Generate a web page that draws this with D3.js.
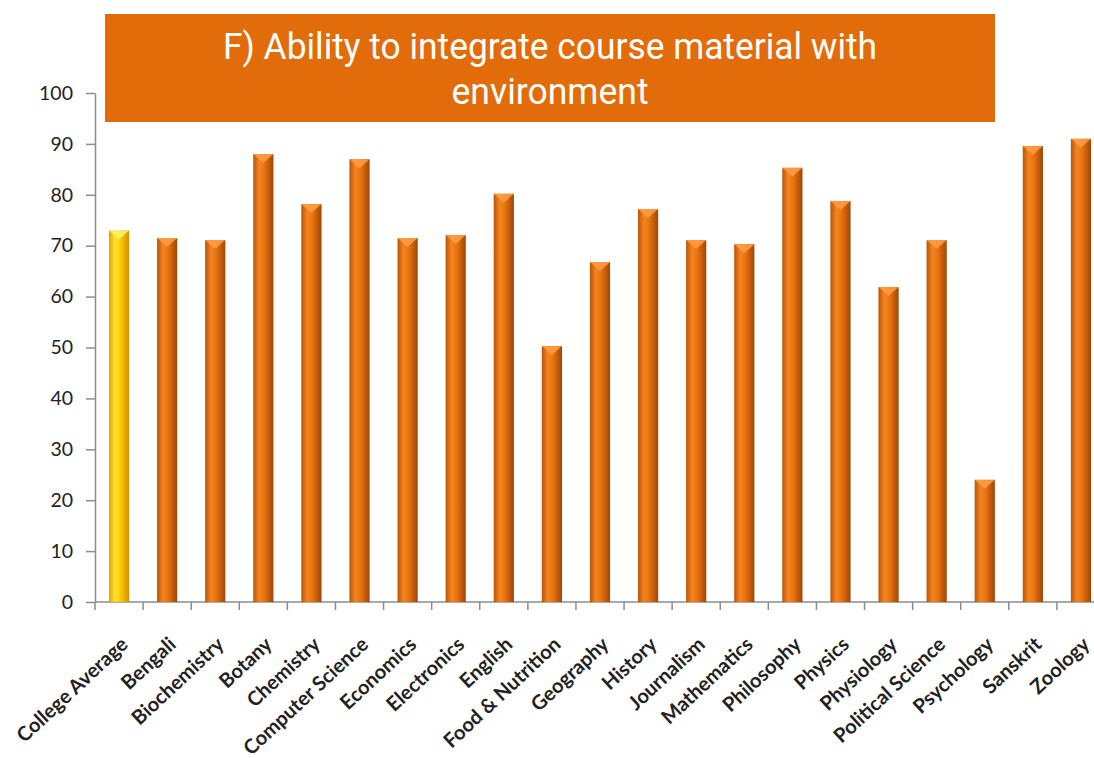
<!DOCTYPE html>
<html>
<head>
<meta charset="utf-8">
<script src="https://cdn.jsdelivr.net/npm/d3@7"></script>
<style>
  body { margin: 0; background: #fff; }
  svg { display: block; }
  .y.axis text { font-family: Lato, "Open Sans", sans-serif; font-size: 19.5px; fill: #222; }
  .x.axis text { font-family: Lato, "Open Sans", sans-serif; font-size: 20px; font-weight: 700; fill: #222; }
  .axis path, .axis line { stroke: #8c8c8c; stroke-width: 1.5px; }
  .title { font-family: "Liberation Sans Narrow", "Arial Narrow", Roboto, sans-serif; font-size: 37px; fill: #fff; }
</style>
</head>
<body>
<div id="myChart"></div>
<script>
var categories = ["College Average", "Bengali", "Biochemistry", "Botany", "Chemistry",
  "Computer Science", "Economics", "Electronics", "English", "Food & Nutrition",
  "Geography", "History", "Journalism", "Mathematics", "Philosophy", "Physics",
  "Physiology", "Political Science", "Psychology", "Sanskrit", "Zoology"];
var values = [73, 71.5, 71.1, 88, 78.2, 87, 71.5, 72.1, 80.2, 50.3,
  66.8, 77.2, 71.1, 70.3, 85.3, 78.8, 61.9, 71.1, 24, 89.6, 91];
var yTicks = [0, 10, 20, 30, 40, 50, 60, 70, 80, 90, 100];
var titleLines = ["F) Ability to integrate course material with", "environment"];
var titleWidths = [654, 197]; // width each title line spans in the picture

var width = 1094, height = 758;

// plot area; the last band runs past the right edge, as in the picture
var x = d3.scaleBand()
    .domain(categories)
    .range([95, 1105])
    .paddingInner(0.58)
    .paddingOuter(0.29);

var y = d3.scaleLinear()
    .domain([0, 100])
    .range([602, 93]);

var svg = d3.select("#myChart").append("svg")
    .attr("width", width)
    .attr("height", height);

var defs = svg.append("defs");

// cylinder-like shading across each bar
function barGradient(id, stops) {
    var g = defs.append("linearGradient")
        .attr("id", id)
        .attr("x1", "0%").attr("x2", "100%")
        .attr("y1", "0%").attr("y2", "0%");
    stops.forEach(function(s) {
        g.append("stop").attr("offset", s[0]).attr("stop-color", s[1]);
    });
}
barGradient("orange-bar", [["0%", "#b9550a"], ["30%", "#f5851f"], ["55%", "#e97211"], ["100%", "#9f4706"]]);
barGradient("yellow-bar", [["0%", "#e2a400"], ["30%", "#ffe03a"], ["55%", "#ffcc00"], ["100%", "#cf9200"]]);

// Y axis
svg.append("g")
    .attr("class", "y axis")
    .attr("transform", "translate(" + x.range()[0] + ",0)")
    .call(d3.axisLeft(y).tickValues(yTicks).tickSize(9).tickPadding(13).tickSizeOuter(0));

// X axis with ticks on the band edges
var xAxis = svg.append("g")
    .attr("class", "x axis")
    .attr("transform", "translate(0," + y(0) + ")");

xAxis.append("line")
    .attr("x1", x.range()[0]).attr("x2", x.range()[1]);

xAxis.selectAll(".edge")
    .data(categories)
    .enter().append("line")
    .attr("class", "edge")
    .attr("x1", function(d) { return x(d) - x.step() * x.paddingInner() / 2; })
    .attr("x2", function(d) { return x(d) - x.step() * x.paddingInner() / 2; })
    .attr("y1", 0).attr("y2", 8);

xAxis.selectAll(".label")
    .data(categories)
    .enter().append("text")
    .attr("class", "label")
    .attr("text-anchor", "end")
    .attr("transform", function(d) {
        return "translate(" + (x(d) + x.bandwidth() / 2 + 10) + ",44) rotate(-43)";
    })
    .text(function(d) { return d; });

// bars
var bars = svg.selectAll(".bar")
    .data(categories)
    .enter().append("g")
    .attr("class", "bar");

bars.append("rect")
    .attr("x", function(d) { return x(d); })
    .attr("y", function(d, i) { return y(values[i]); })
    .attr("width", x.bandwidth())
    .attr("height", function(d, i) { return y(0) - y(values[i]); })
    .attr("fill", function(d, i) { return i === 0 ? "url(#yellow-bar)" : "url(#orange-bar)"; });

// bevelled top of each bar
bars.append("path")
    .attr("d", function(d, i) {
        var x0 = x(d), x1 = x(d) + x.bandwidth(), xm = x0 + x.bandwidth() / 2, yt = y(values[i]);
        return "M" + x0 + "," + yt + "L" + x1 + "," + yt + "L" + xm + "," + (yt + 9) + "Z";
    })
    .attr("fill", function(d, i) { return i === 0 ? "#fff06a" : "#ff9e45"; })
    .attr("opacity", 0.85);

// title box
svg.append("rect")
    .attr("x", 105).attr("y", 14)
    .attr("width", 890).attr("height", 108)
    .attr("fill", "#e36c0a");

svg.selectAll(".title")
    .data(titleLines)
    .enter().append("text")
    .attr("class", "title")
    .attr("x", 550)
    .attr("y", function(d, i) { return 59 + i * 45; })
    .attr("text-anchor", "middle")
    .attr("textLength", function(d, i) { return titleWidths[i]; })
    .attr("lengthAdjust", "spacingAndGlyphs")
    .text(function(d) { return d; });
</script>
</body>
</html>
